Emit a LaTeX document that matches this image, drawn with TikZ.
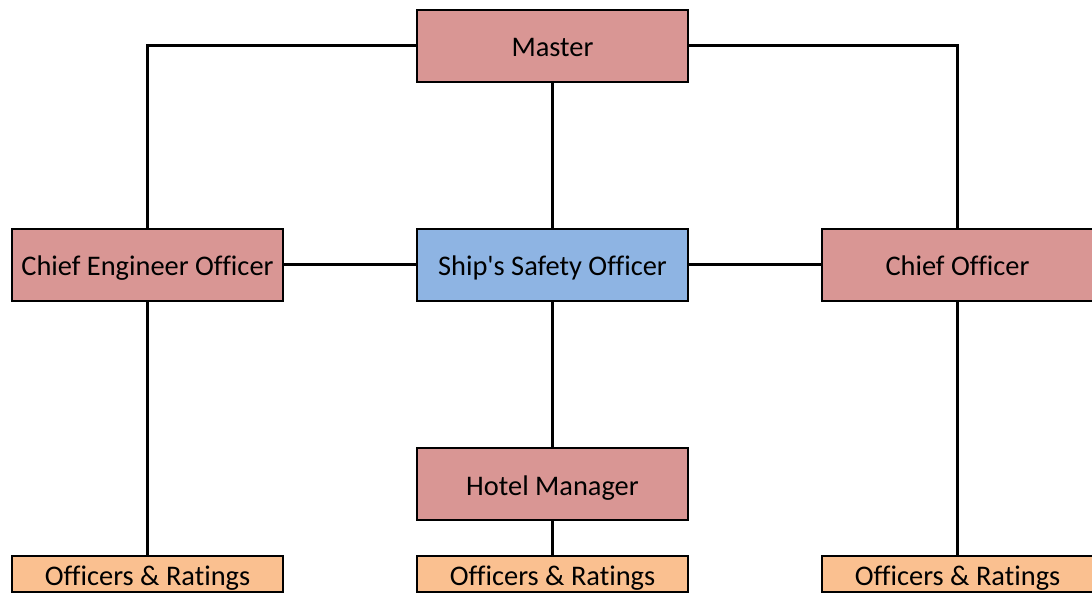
\documentclass[tikz,border=0pt]{standalone}
\usepackage{fontspec}
\setmainfont[Ligatures=NoCommon]{Carlito}
\definecolor{rolepink}{HTML}{D99694}
\definecolor{safetyblue}{HTML}{8EB4E3}
\definecolor{crewpeach}{HTML}{FAC090}
\tikzset{
  rolebox/.style={draw=black, line width=2pt, fill=rolepink, minimum width=271pt, minimum height=72pt, inner sep=0pt, text height=22pt, text depth=0pt, font=\fontsize{28.4}{33}\selectfont},
  safetybox/.style={rolebox, fill=safetyblue},
  crewbox/.style={rolebox, fill=crewpeach, minimum height=36pt},
  link/.style={line width=3pt, black}
}
\begin{document}
\begin{tikzpicture}[x=1pt,y=-1pt]
      \useasboundingbox (0,0) rectangle (1092,593);
      \node[rolebox] (master) at (552.5,46) {Master};
      \node[rolebox] (engineer) at (147.5,265) {Chief Engineer Officer};
      \node[safetybox] (safety) at (552.5,265) {Ship\textquotesingle s Safety Officer};
      \node[rolebox] (chief) at (957.5,265) {Chief Officer};
      \node[rolebox] (hotel) at (552.5,484) {Hotel Manager};
      \node[crewbox] (crewleft) at (147.5,574) {Officers \& Ratings};
      \node[crewbox] (crewmid) at (552.5,574) {Officers \& Ratings};
      \node[crewbox] (crewright) at (957.5,574) {Officers \& Ratings};
      \draw[link] (master.west) -| (engineer.north);
      \draw[link] (master.east) -| (chief.north);
      \draw[link] (master) -- (safety);
      \draw[link] (safety) -- (engineer);
      \draw[link] (safety) -- (chief);
      \draw[link] (safety) -- (hotel);
      \draw[link] (hotel) -- (crewmid);
      \draw[link] (engineer) -- (crewleft);
      \draw[link] (chief) -- (crewright);
    \end{tikzpicture}
\end{document}
